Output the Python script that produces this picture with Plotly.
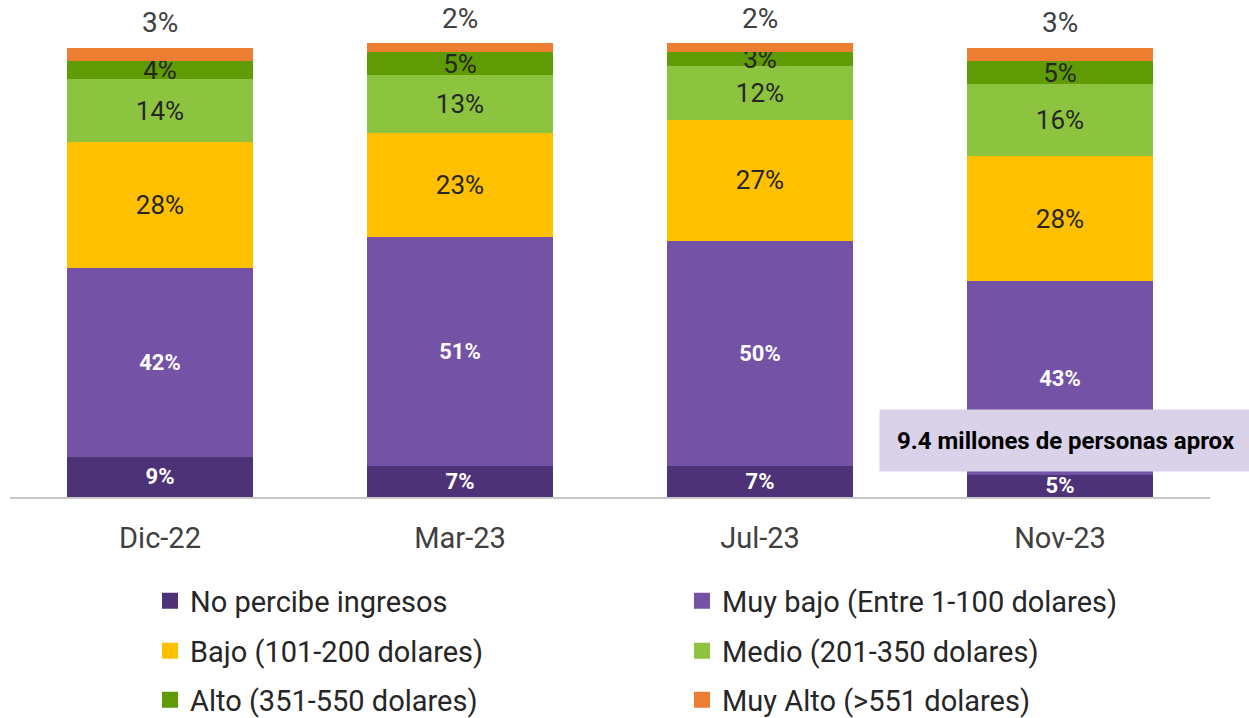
import plotly.graph_objects as go

categories = ["Dic-22", "Mar-23", "Jul-23", "Nov-23"]
series_names = [
    "No percibe ingresos",
    "Muy bajo (Entre 1-100 dolares)",
    "Bajo (101-200 dolares)",
    "Medio (201-350 dolares)",
    "Alto (351-550 dolares)",
    "Muy Alto (>551 dolares)",
]
no_percibe = [9, 7, 7, 5]
muy_bajo = [42, 51, 50, 43]
bajo = [28, 23, 27, 28]
medio = [14, 13, 12, 16]
alto = [4, 5, 3, 5]
muy_alto = [3, 2, 2, 3]

series_values = [no_percibe, muy_bajo, bajo, medio, alto, muy_alto]
colors = ["#4e3278", "#7452a6", "#ffc000", "#8cc43f", "#5f9b04", "#ed7d31"]
legend_ids = ["legend", "legend", "legend2", "legend2", "legend3", "legend3"]

FONT = "Roboto"
W, H = 1249, 718
L, R, T, B = 10, 39, 39, 221
plot_h = H - B - T
plot_w = W - L - R


def py(pixel_y):
    return (H - B - pixel_y) / plot_h


def px(pixel_x):
    return (pixel_x - L) / plot_w


fig = go.Figure()
for i, (name, vals, col, lg) in enumerate(zip(series_names, series_values, colors, legend_ids)):
    if i < 2:
        tf = dict(family=FONT, size=22, color="white")
        txt = [f"<b>{v}%</b>" for v in vals]
    elif i < 5:
        tf = dict(family=FONT, size=26, color="#262626")
        txt = [f"{v}%" for v in vals]
    else:
        tf = dict(family=FONT, size=26, color="#262626")
        txt = None
    fig.add_trace(go.Bar(
        x=categories, y=vals, name=name, showlegend=False,
        marker=dict(color=col, line=dict(width=0)),
        text=txt, textposition="inside" if txt else "none",
        insidetextanchor="middle", constraintext="none", textangle=0,
        textfont=tf, hoverinfo="skip",
    ))

# legend-only entries with larger square swatches
for name, col, lg in zip(series_names, colors, legend_ids):
    fig.add_trace(go.Scatter(
        x=[None], y=[None], mode="markers", name=name, legend=lg,
        marker=dict(symbol="square", size=16, color=col), showlegend=True,
        hoverinfo="skip",
    ))

totals = [sum(s[k] for s in series_values) for k in range(len(categories))]
for k, c in enumerate(categories):
    fig.add_annotation(x=c, y=totals[k], xref="x", yref="y", text=f"{muy_alto[k]}%",
                       showarrow=False, yshift=25, yanchor="middle",
                       font=dict(family=FONT, size=28, color="#404040"))

fig.add_annotation(x=px(879), xref="paper", y=py(440), yref="paper",
                   text="<b>9.4 millones de personas aprox</b>",
                   showarrow=False, font=dict(family=FONT, size=24, color="black"),
                   bgcolor="#d9d2e9", width=370, height=59, xanchor="left", yanchor="middle")

legend_common = dict(orientation="h", entrywidth=487, entrywidthmode="pixels",
                     font=dict(family=FONT, size=29, color="#262626"),
                     xanchor="left", yanchor="middle", bgcolor="rgba(0,0,0,0)",
                     itemclick=False, itemdoubleclick=False, traceorder="normal",
                     itemsizing="trace")

fig.update_layout(
    width=W, height=H,
    margin=dict(l=L, r=R, t=T, b=B, autoexpand=False),
    barmode="stack", bargap=0.38,
    plot_bgcolor="white", paper_bgcolor="white",
    font=dict(family=FONT),
    xaxis=dict(showline=True, linecolor="#c8c8c8", linewidth=2, ticks="",
               tickfont=dict(family=FONT, size=29, color="#404040"), ticklabelstandoff=14,
               fixedrange=True),
    yaxis=dict(range=[0, 102], visible=False, showgrid=False, zeroline=False, fixedrange=True),
    legend=dict(**legend_common, x=px(150), y=py(601)),
    legend2=dict(**legend_common, x=px(150), y=py(651)),
    legend3=dict(**legend_common, x=px(150), y=py(700)),
    showlegend=True,
)

fig.write_html("out.html", post_script="document.body.style.margin='0';",
               config={"displayModeBar": False})
